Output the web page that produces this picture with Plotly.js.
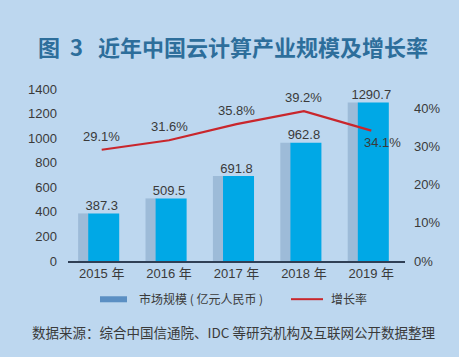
<!DOCTYPE html>
<html><head><meta charset="utf-8">
<script src="https://cdn.plot.ly/plotly-3.0.1.min.js"></script>
<style>html,body{margin:0;padding:0;background:#bdd7ef;}</style>
</head><body><div id="chart" style="width:459px;height:357px;"></div>
<script>
const years = ['2015 年','2016 年','2017 年','2018 年','2019 年'];
const marketSize = [387.3, 509.5, 691.8, 962.8, 1290.7];
const growthRate = [29.1, 31.6, 35.8, 39.2, 34.1];
const rateTicks = [0, 10, 20, 30, 40];
const rateTickLabels = ['0%', '10%', '20%', '30%', '40%'];
const barName = '市场规模 ( 亿元人民币 )';
const lineName = '增长率';
const titleText = '图&nbsp;&nbsp;3&nbsp;&nbsp;&nbsp;近年中国云计算产业规模及增长率';
const sourceText = '数据来源：综合中国信通院、IDC 等研究机构及互联网公开数据整理';

const FONT = 'Liberation Sans, Arial, Noto Sans CJK SC, sans-serif';
const CJK = 'Noto Sans CJK SC, sans-serif';

const traces = [
  {type:'bar', x:years, y:marketSize, offset:-0.35, width:0.16,
   marker:{color:'#9dbbd8'}, showlegend:false, hoverinfo:'skip'},
  {type:'bar', x:years, y:marketSize, offset:-0.2, width:0.46,
   marker:{color:'#00a8e6'}, showlegend:false},
  {type:'scatter', mode:'text', x:years, y:marketSize,
   text:marketSize.map(v=>v.toFixed(1)), textposition:'top center',
   textfont:{size:13, color:'#3a3a3a', family:FONT}, showlegend:false, hoverinfo:'skip'},
  {type:'scatter', mode:'lines', x:years, y:growthRate, yaxis:'y2',
   line:{color:'#c9262c', width:2.2}, showlegend:false}
];

const annotations = growthRate.map((v,i)=>({
  x:years[i], y:v, xref:'x', yref:'y2', text:v.toFixed(1)+'%', showarrow:false,
  yanchor: i===4 ? 'top' : 'bottom', yshift: i===4 ? -2 : 4, xshift: i===4 ? 11 : 0,
  font:{size:13, color:'#3a3a3a', family:FONT}
}));
annotations.push({xref:'paper', yref:'paper', x:(233-68)/337, y:1, yshift:43, xanchor:'center', yanchor:'middle',
  text:titleText, showarrow:false, font:{size:22, weight:600, color:'#2d6e9b', family:CJK}});
annotations.push({xref:'paper', yref:'paper', x:(137-68)/337, y:-0.22, xanchor:'left', yanchor:'middle',
  text:barName, showarrow:false, font:{size:12, color:'#3a3a3a', family:CJK}});
annotations.push({xref:'paper', yref:'paper', x:(329-68)/337, y:-0.22, xanchor:'left', yanchor:'middle',
  text:lineName, showarrow:false, font:{size:12, color:'#3a3a3a', family:CJK}});
annotations.push({xref:'paper', yref:'paper', x:(233-68)/337, y:-0.415, xanchor:'center', yanchor:'middle',
  text:sourceText, showarrow:false, font:{size:13.5, color:'#3a3a3a', family:CJK}});

const shapes = [
  {type:'rect', xref:'paper', yref:'paper', x0:(100-68)/337, x1:(127-68)/337, y0:-0.205, y1:-0.24,
   fillcolor:'#5b8fc3', line:{width:0}},
  {type:'line', xref:'paper', yref:'paper', x0:(291-68)/337, x1:(323-68)/337, y0:-0.222, y1:-0.222,
   line:{color:'#c9262c', width:2}}
];

const layout = {
  width:459, height:357,
  paper_bgcolor:'#bdd7ef', plot_bgcolor:'#bdd7ef',
  margin:{l:68, r:54, t:89, b:96},
  barmode:'overlay', showlegend:false,
  font:{family:FONT, color:'#3a3a3a', size:13},
  xaxis:{type:'category', showgrid:false, showline:true, linecolor:'#2f3f55', linewidth:1.5,
    ticks:'', tickfont:{size:13, family:FONT, color:'#3a3a3a'}, zeroline:false},
  yaxis:{range:[0,1400], dtick:200, showgrid:false, zeroline:false, showline:false,
    tickfont:{size:13, family:FONT, color:'#3a3a3a'}, ticklabelstandoff:10},
  yaxis2:{overlaying:'y', side:'right', range:[0,45], tickmode:'array', tickvals:rateTicks, ticktext:rateTickLabels,
    showgrid:false, zeroline:false, showline:false,
    tickfont:{size:13, family:FONT, color:'#3a3a3a'}, ticklabelstandoff:8},
  annotations:annotations, shapes:shapes
};

Plotly.newPlot('chart', traces, layout, {displayModeBar:false, staticPlot:true});
</script></body></html>
